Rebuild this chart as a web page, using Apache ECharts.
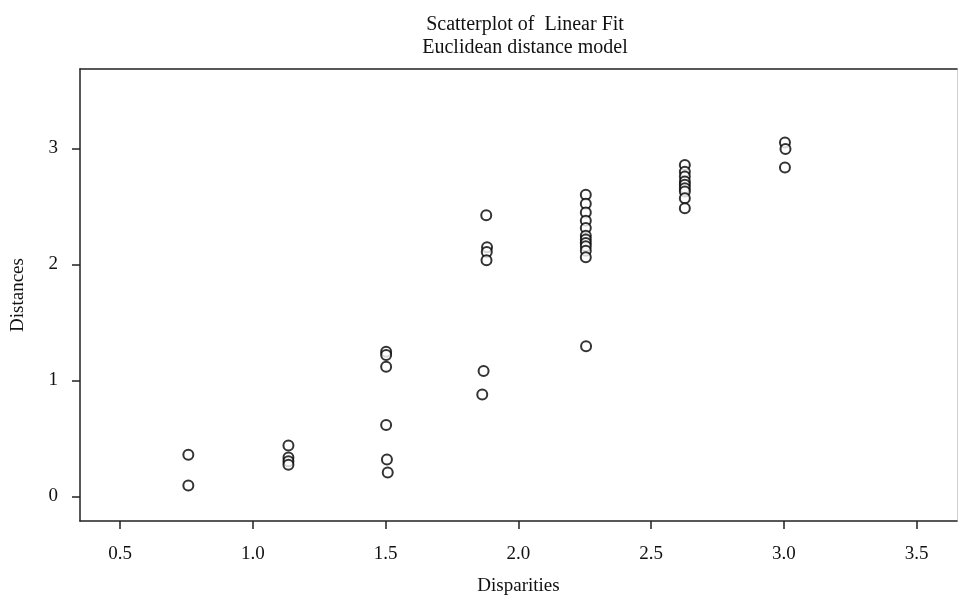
<!DOCTYPE html>
<html>
<head>
<meta charset="utf-8">
<title>Scatterplot of Linear Fit</title>
<script src="https://cdn.jsdelivr.net/npm/echarts@6/dist/echarts.min.js"></script>
<style>
  html, body { margin: 0; padding: 0; background: #fff; }
  #chart { width: 958px; height: 598px; }
</style>
</head>
<body>
<div id="chart"></div>
<script>
// Disparities (x) and fitted distances (y), one entry per stimulus pair
const disparities = [
  0.757, 0.757,
  1.134, 1.134, 1.134, 1.134,
  1.502, 1.502, 1.502, 1.502, 1.505, 1.508,
  1.879, 1.882, 1.881, 1.880, 1.869, 1.864,
  2.254, 2.254, 2.254, 2.254, 2.254, 2.254, 2.254, 2.254, 2.254, 2.254, 2.254, 2.255,
  2.627, 2.627, 2.627, 2.627, 2.627, 2.627, 2.627, 2.627, 2.627,
  3.004, 3.006, 3.004
];
const distances = [
  0.360, 0.094,
  0.438, 0.335, 0.303, 0.272,
  1.248, 1.220, 1.117, 0.616, 0.318, 0.206,
  2.425, 2.148, 2.107, 2.036, 1.082, 0.879,
  2.600, 2.523, 2.448, 2.377, 2.314, 2.248, 2.214, 2.185, 2.156, 2.119, 2.062, 1.295,
  2.858, 2.800, 2.758, 2.715, 2.687, 2.657, 2.629, 2.571, 2.485,
  3.052, 2.995, 2.835
];
const xTicks = [0.5, 1.0, 1.5, 2.0, 2.5, 3.0, 3.5];
const yTicks = [0, 1, 2, 3];

const serif = '"Liberation Serif", "Times New Roman", serif';
const points = disparities.map((d, i) => [d, distances[i]]);

const chart = echarts.init(document.getElementById('chart'), null, { renderer: 'canvas' });
chart.setOption({
  backgroundColor: '#ffffff',
  animation: false,
  title: {
    text: 'Scatterplot of  Linear Fit\nEuclidean distance model',
    left: 520,
    top: 8,
    textAlign: 'center',
    textStyle: {
      fontFamily: serif,
      fontWeight: 'normal',
      fontSize: 20,
      lineHeight: 23,
      color: '#111'
    }
  },
  grid: {
    left: 80,
    right: 1,
    top: 69,
    bottom: 77,
    show: false,
    outerBoundsMode: 'none'
  },
  xAxis: [{
    type: 'value',
    min: 0.349,
    max: 3.652,
    name: 'Disparities',
    nameLocation: 'middle',
    nameGap: 56,
    nameTextStyle: { fontFamily: serif, fontSize: 19, color: '#111' },
    axisLine: { show: true, onZero: false, lineStyle: { color: '#222', width: 1.5 } },
    axisTick: { show: true, inside: false, length: 8, customValues: xTicks,
      lineStyle: { color: '#222', width: 1.5 } },
    axisLabel: { customValues: xTicks, margin: 24, fontFamily: serif, fontSize: 19,
      color: '#111', formatter: v => v.toFixed(1) },
    splitLine: { show: false }
  }, {
    type: 'value',
    position: 'top',
    min: 0.349,
    max: 3.652,
    axisLine: { show: true, onZero: false, lineStyle: { color: '#222', width: 1.5 } },
    axisTick: { show: false },
    axisLabel: { show: false },
    splitLine: { show: false }
  }],
  yAxis: [{
    type: 'value',
    min: -0.212,
    max: 3.685,
    name: 'Distances',
    nameLocation: 'middle',
    nameGap: 52,
    nameRotate: 90,
    nameTextStyle: { fontFamily: serif, fontSize: 19, color: '#111' },
    axisLine: { show: true, onZero: false, lineStyle: { color: '#222', width: 1.5 } },
    axisTick: { show: true, inside: false, length: 8, customValues: yTicks,
      lineStyle: { color: '#222', width: 1.5 } },
    axisLabel: { customValues: yTicks, margin: 22, fontFamily: serif, fontSize: 19,
      color: '#111' },
    splitLine: { show: false }
  }, {
    type: 'value',
    position: 'right',
    min: -0.212,
    max: 3.685,
    axisLine: { show: true, onZero: false, lineStyle: { color: '#cfcfcf', width: 1 } },
    axisTick: { show: false },
    axisLabel: { show: false },
    splitLine: { show: false }
  }],
  series: [{
    type: 'scatter',
    xAxisIndex: 0,
    yAxisIndex: 0,
    data: points,
    symbol: 'emptyCircle',
    symbolSize: 10,
    itemStyle: { color: '#000', borderColor: '#000', borderWidth: 1.7 },
    emphasis: { disabled: true }
  }]
});
</script>
</body>
</html>
